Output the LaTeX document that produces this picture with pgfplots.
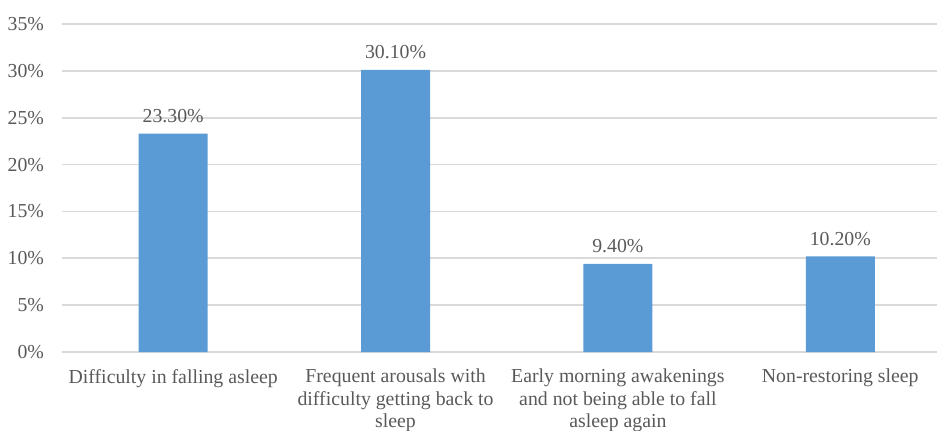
\documentclass[border=0pt]{standalone}
\usepackage{pgfplots}
\pgfplotsset{compat=1.18}
\usepackage{fontspec}
\setmainfont{Liberation Serif}
\definecolor{barblue}{HTML}{5B9BD5}
\definecolor{txtgray}{HTML}{595959}
\definecolor{gridgray}{HTML}{D9D9D9}
\begin{document}
\begin{tikzpicture}
\begin{axis}[
  name=ax,
  scale only axis,
  width=437.5pt, height=164pt,
  xmin=-0.5, xmax=3.435,
  ymin=0, ymax=35,
  ytick={0,5,10,15,20,25,30,35},
  yticklabel={\pgfmathprintnumber{\tick}\%},
  /pgf/number format/assume math mode=true,
  xtick={0,1,2,3},
  xticklabels={{Difficulty in falling asleep},{Frequent arousals with\\difficulty getting back to\\sleep},{Early morning awakenings\\and not being able to fall\\asleep again},{Non-restoring sleep}},
  xticklabel style={align=center, font=\fontsize{9.9}{11.2}\selectfont, text=txtgray, yshift=-5pt},
  yticklabel style={font=\fontsize{9.9}{11.3}\selectfont, text=txtgray, xshift=-5.5pt},
  major tick length=0pt,
  axis line style={draw=none},
  ymajorgrids,
  grid style={gridgray, line width=0.8pt},
  ybar, bar width=34.5pt,
  nodes near coords={\pgfmathprintnumber[fixed,fixed zerofill,precision=2]{\pgfplotspointmeta}\%},
  nodes near coords style={font=\fontsize{9.9}{11.3}\selectfont, text=txtgray, /pgf/number format/assume math mode=true, yshift=2pt},
  clip=false,
]
\addplot[fill=barblue, draw=none] coordinates {(0,23.3) (1,30.1) (2,9.4) (3,10.2)};
\end{axis}
\pgfresetboundingbox
\path[use as bounding box] ([xshift=-31pt,yshift=-39pt]ax.south west) rectangle ([yshift=12pt]ax.north east);
\end{tikzpicture}
\end{document}
